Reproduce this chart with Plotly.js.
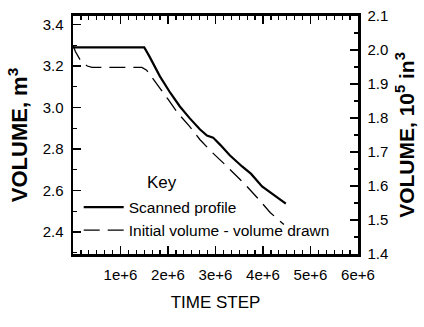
<!DOCTYPE html>
<html>
<head>
<meta charset="utf-8">
<script src="https://cdn.plot.ly/plotly-3.0.1.min.js"></script>
<style>html,body{margin:0;padding:0;background:#fff;}#chart{width:424px;height:327px;}</style>
</head>
<body>
<div id="chart"></div>
<script>
// Time step values (units of time steps)
const scannedX = [0, 1.5e6, 1.6e6, 1.83e6, 2.05e6, 2.25e6, 2.45e6, 2.67e6, 2.82e6, 2.95e6, 3.1e6, 3.3e6, 3.56e6, 3.75e6, 3.98e6, 4.2e6, 4.48e6];
const scannedY = [3.29, 3.29, 3.25, 3.15, 3.07, 3.005, 2.95, 2.895, 2.865, 2.855, 2.82, 2.77, 2.716, 2.68, 2.62, 2.585, 2.537];
const initialX = [0, 0.05e6, 0.15e6, 0.3e6, 0.4e6, 1.45e6, 1.55e6, 1.65e6, 1.75e6, 2.0e6, 2.2e6, 2.45e6, 2.67e6, 2.9e6, 3.2e6, 3.4e6, 3.62e6, 3.9e6, 4.15e6, 4.44e6];
const initialY = [3.30, 3.27, 3.23, 3.20, 3.193, 3.193, 3.18, 3.15, 3.115, 3.04, 2.975, 2.91, 2.846, 2.79, 2.725, 2.68, 2.63, 2.56, 2.494, 2.436];
const xTickVals = [1e6, 2e6, 3e6, 4e6, 5e6, 6e6];
const xTickText = ['1e+6', '2e+6', '3e+6', '4e+6', '5e+6', '6e+6'];
const yTickVals = [2.4, 2.6, 2.8, 3.0, 3.2, 3.4];
const yTickText = ['2.4', '2.6', '2.8', '3.0', '3.2', '3.4'];
const y2TickVals = [1.4, 1.5, 1.6, 1.7, 1.8, 1.9, 2.0, 2.1];
const y2TickText = ['1.4', '1.5', '1.6', '1.7', '1.8', '1.9', '2.0', '2.1'];
const legendTitle = 'Key';
const M3_TO_1E5IN3 = 0.610237;

const sans = 'Liberation Sans, Arial, sans-serif';

const traces = [
  {x: scannedX, y: scannedY, mode: 'lines', name: 'Scanned profile',
   line: {color: '#000', width: 2.2}, hoverinfo: 'skip'},
  {x: initialX, y: initialY, mode: 'lines', name: 'Initial volume - volume drawn',
   line: {color: '#000', width: 1.3, dash: '16px,8px'}, hoverinfo: 'skip'},
  {x: scannedX, y: scannedY.map(v => v * M3_TO_1E5IN3), yaxis: 'y2', mode: 'lines',
   line: {color: 'rgba(0,0,0,0)', width: 0}, showlegend: false, hoverinfo: 'skip'}
];

const layout = {
  width: 424, height: 327,
  margin: {l: 73, r: 66, t: 16, b: 73},
  paper_bgcolor: '#fff', plot_bgcolor: '#fff',
  font: {family: sans, color: '#000', size: 15},
  showlegend: true,
  legend: {
    x: 0.02, y: 0.267, xanchor: 'left', yanchor: 'top',
    bgcolor: 'rgba(0,0,0,0)', borderwidth: 0,
    font: {family: sans, size: 15.5, color: '#000'},
    tracegroupgap: 0, itemwidth: 40
  },
  annotations: [{
    text: legendTitle, xref: 'paper', yref: 'paper', x: 0.312, y: 0.3025,
    xanchor: 'center', yanchor: 'middle', showarrow: false,
    font: {family: sans, size: 17, color: '#000'}
  }],
  xaxis: {
    range: [0, 6e6], showgrid: false, zeroline: false,
    showline: true, linewidth: 2.8, linecolor: '#000', mirror: 'ticks',
    ticks: 'inside', ticklen: 8, tickwidth: 1.3, tickcolor: '#000',
    tickvals: xTickVals, ticktext: xTickText, ticklabelstandoff: 5,
    tickfont: {family: sans, size: 15},
    minor: {dtick: 1e6 / 6, tick0: 0, ticks: 'inside', ticklen: 4, tickwidth: 1.2, tickcolor: '#000', showgrid: false},
    title: {text: 'TIME STEP', standoff: 15, font: {family: sans, size: 17}}
  },
  yaxis: {
    range: [2.294, 3.441], showgrid: false, zeroline: false,
    showline: true, linewidth: 2.5, linecolor: '#000',
    ticks: 'inside', ticklen: 8, tickwidth: 1.3, tickcolor: '#000',
    tickvals: yTickVals, ticktext: yTickText, ticklabelstandoff: 4,
    tickfont: {family: sans, size: 15},
    minor: {dtick: 0.1, tick0: 0, ticks: 'inside', ticklen: 4, tickwidth: 1.2, tickcolor: '#000', showgrid: false},
    title: {text: '<b>VOLUME, m<sup>3</sup></b>', standoff: 9, font: {family: sans, size: 22}}
  },
  yaxis2: {
    overlaying: 'y', side: 'right',
    range: [1.4, 2.1], showgrid: false, zeroline: false,
    showline: true, linewidth: 2.5, linecolor: '#000',
    ticks: 'inside', ticklen: 8, tickwidth: 1.3, tickcolor: '#000',
    tickvals: y2TickVals, ticktext: y2TickText, ticklabelstandoff: 4,
    tickfont: {family: sans, size: 15},
    minor: {dtick: 0.05, tick0: 0, ticks: 'inside', ticklen: 4, tickwidth: 1.2, tickcolor: '#000', showgrid: false},
    title: {text: '<b>VOLUME, 10<sup>5</sup> in<sup>3</sup></b>', standoff: 12, font: {family: sans, size: 21}}
  }
};

Plotly.newPlot('chart', traces, layout, {staticPlot: true, displayModeBar: false});
</script>
</body>
</html>
